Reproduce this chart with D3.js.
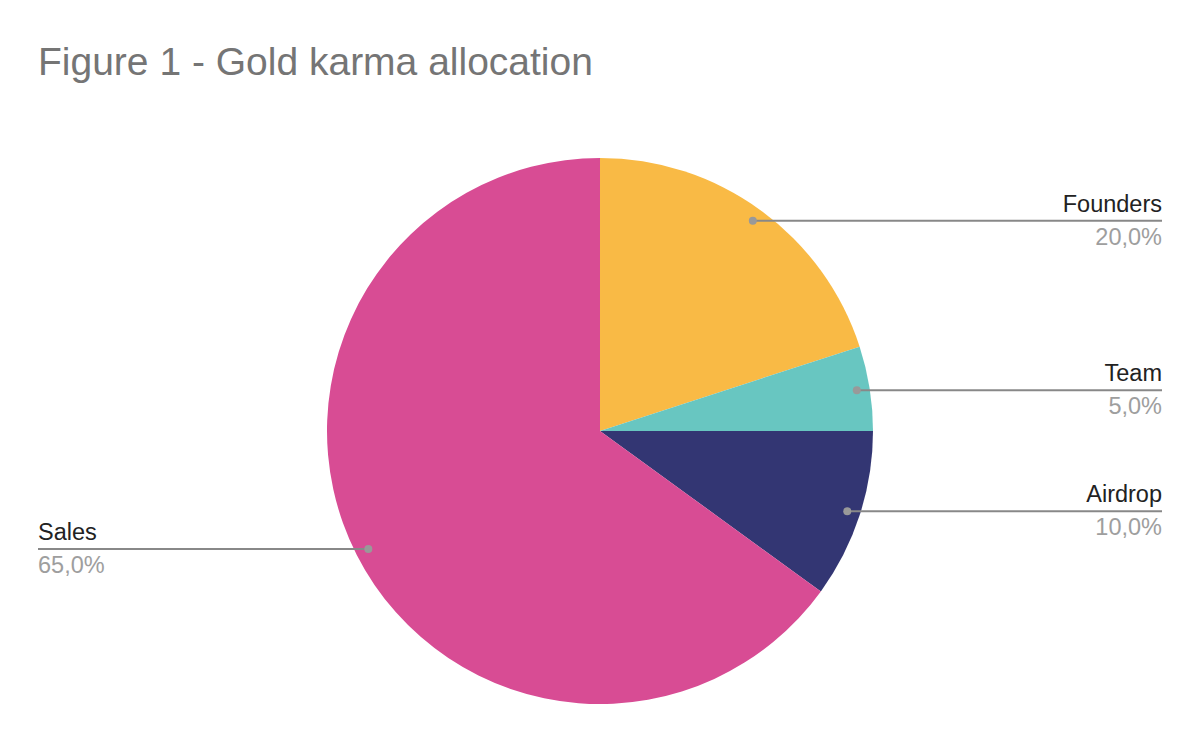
<!DOCTYPE html>
<html>
<head>
<meta charset="utf-8">
<script src="https://cdn.jsdelivr.net/npm/d3@7"></script>
<style>
  body { margin: 0; background: #fff; }
  svg { display: block; font-family: "Liberation Sans", Arial, sans-serif; }
</style>
</head>
<body>
<svg id="chart" width="1200" height="742"></svg>
<script>
const categories = ["Founders", "Team", "Airdrop", "Sales"];
const shares = [20, 5, 10, 65];
const valueLabels = ["20,0%", "5,0%", "10,0%", "65,0%"];
const colors = ["#f9ba45", "#68c6c1", "#333673", "#d84c94"];

const svg = d3.select("#chart");
const cx = 600, cy = 431, radius = 273;
const labelLeft = 38, labelRight = 1162;

svg.append("text")
  .attr("x", 38)
  .attr("y", 75)
  .attr("fill", "#757575")
  .style("font-size", "39px")
  .text("Figure 1 - Gold karma allocation");

const data = categories.map((c, i) => ({ name: c, value: shares[i], label: valueLabels[i], color: colors[i] }));

const pie = d3.pie().sort(null).value(d => d.value);
const arcs = pie(data);
const arc = d3.arc().innerRadius(0).outerRadius(radius);
const dotArc = d3.arc().innerRadius(260).outerRadius(260);

const g = svg.append("g").attr("transform", `translate(${cx},${cy})`);

g.selectAll("path")
  .data(arcs)
  .enter()
  .append("path")
  .attr("d", arc)
  .attr("fill", d => d.data.color);

// leader lines, dots and labels
const labels = svg.append("g");
arcs.forEach(d => {
  const [dx, dy] = dotArc.centroid(d);
  const px = cx + dx, py = cy + dy;
  const right = px > cx;
  const endX = right ? labelRight : labelLeft;

  labels.append("line")
    .attr("x1", px).attr("y1", py)
    .attr("x2", endX).attr("y2", py)
    .attr("stroke", "#888")
    .attr("stroke-width", 2);

  labels.append("circle")
    .attr("cx", px).attr("cy", py)
    .attr("r", 4)
    .attr("fill", "#999");

  labels.append("text")
    .attr("x", endX)
    .attr("y", py - 9)
    .attr("text-anchor", right ? "end" : "start")
    .attr("fill", "#222")
    .style("font-size", "23.5px")
    .text(d.data.name);

  labels.append("text")
    .attr("x", endX)
    .attr("y", py + 24)
    .attr("text-anchor", right ? "end" : "start")
    .attr("fill", "#9e9e9e")
    .style("font-size", "23.5px")
    .text(d.data.label);
});
</script>
</body>
</html>
